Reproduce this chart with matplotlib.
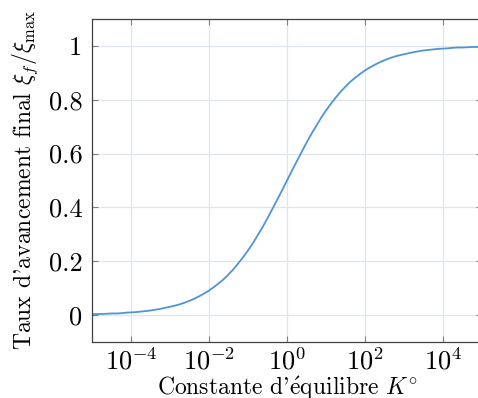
import matplotlib
matplotlib.use("Agg")
import matplotlib.pyplot as plt

# Data (log10 K, extent ratio xi_f/xi_max)
log_K = [-5.0, -4.875, -4.75, -4.625, -4.5, -4.375, -4.25, -4.125,
         -4.0, -3.875, -3.75, -3.625, -3.5, -3.375, -3.25, -3.125,
         -3.0, -2.875, -2.75, -2.625, -2.5, -2.375, -2.25, -2.125,
         -2.0, -1.875, -1.75, -1.625, -1.5, -1.375, -1.25, -1.125,
         -1.0, -0.875, -0.75, -0.625, -0.5, -0.375, -0.25, -0.125,
         0.0, 0.125, 0.25, 0.375, 0.5, 0.625, 0.75, 0.875,
         1.0, 1.125, 1.25, 1.375, 1.5, 1.625, 1.75, 1.875,
         2.0, 2.125, 2.25, 2.375, 2.5, 2.625, 2.75, 2.875,
         3.0, 3.125, 3.25, 3.375, 3.5, 3.625, 3.75, 3.875,
         4.0, 4.125, 4.25, 4.375, 4.5, 4.625, 4.75, 4.875, 5.0]
xi_ratio = [0.003, 0.004, 0.004, 0.005, 0.006, 0.006, 0.007, 0.009,
            0.010, 0.011, 0.013, 0.015, 0.017, 0.020, 0.023, 0.027,
            0.031, 0.035, 0.040, 0.046, 0.053, 0.061, 0.070, 0.080,
            0.091, 0.104, 0.118, 0.133, 0.151, 0.170, 0.192, 0.215,
            0.240, 0.267, 0.297, 0.327, 0.360, 0.394, 0.429, 0.464,
            0.500, 0.536, 0.571, 0.606, 0.640, 0.673, 0.703, 0.733,
            0.760, 0.785, 0.808, 0.830, 0.849, 0.867, 0.882, 0.896,
            0.909, 0.920, 0.930, 0.939, 0.947, 0.954, 0.960, 0.965,
            0.969, 0.973, 0.977, 0.980, 0.983, 0.985, 0.987, 0.989,
            0.990, 0.991, 0.993, 0.994, 0.994, 0.995, 0.996, 0.996, 0.997]
x_ticks = [1e-4, 1e-2, 1e0, 1e2, 1e4]
y_ticks = [0, 0.2, 0.4, 0.6, 0.8, 1]
y_ticklabels = ["0", "0.2", "0.4", "0.6", "0.8", "1"]

plt.rcParams['font.family'] = ['cmr10', 'DejaVu Serif']
plt.rcParams['mathtext.fontset'] = 'cm'
plt.rcParams['axes.formatter.use_mathtext'] = True

fig = plt.figure(figsize=(4.78, 3.98), dpi=100)
ax = fig.add_axes([92/478, 1-342/398, 390/478, (342-19)/398])

K = [10**v for v in log_K]
ax.plot(K, xi_ratio, color='#4f94d8', lw=1.3)
ax.set_xscale('log')
ax.set_xlim(1e-5, 1e5)
ax.set_ylim(-0.1, 1.1)
ax.set_xticks(x_ticks)
ax.xaxis.set_minor_locator(matplotlib.ticker.NullLocator())
ax.set_yticks(y_ticks)
ax.set_yticklabels(y_ticklabels)
ax.grid(True, color='#dfe3ec', lw=0.9)
ax.set_axisbelow(True)
ax.tick_params(direction='in', length=4, width=0.8, color='#808080', top=True, right=True,
               labelsize=19, pad=7)
ax.tick_params(axis='x', pad=4)
for s in ax.spines.values():
    s.set_color('#404040')
    s.set_linewidth(0.9)
ax.set_xlabel(r"Constante d'$\acute{\mathrm{e}}$quilibre $K^{\circ}$", fontsize=17, labelpad=0)
ax.set_ylabel(r"Taux d'avancement final $\xi_f/\xi_{\mathrm{max}}$", fontsize=17, labelpad=6)

fig.savefig("out.png", dpi=100)
